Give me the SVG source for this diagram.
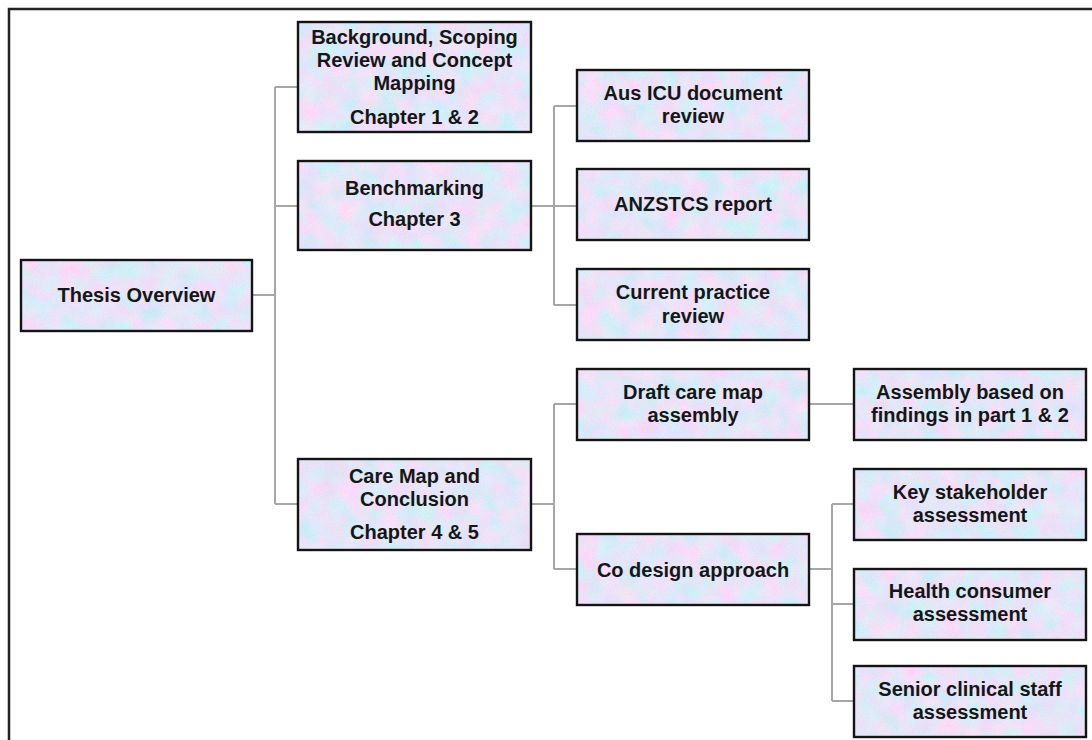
<svg xmlns="http://www.w3.org/2000/svg" width="1092" height="740" viewBox="0 0 1092 740">
  <defs>
    <!-- soft lavender paper with faint blue and pink mottling, used to fill every box -->
    <filter id="mottle" x="0" y="0" width="1" height="1" filterUnits="objectBoundingBox">
      <feTurbulence type="fractalNoise" baseFrequency="0.05" numOctaves="5" seed="7" result="noise"/>
      <feColorMatrix in="noise" type="matrix" result="tint"
        values="0.7 0 0 0 0.45
                -0.3 0.15 0 0 0.875
                0 0 0.1 0 0.9
                0 0 0 0 1"/>
      <feTurbulence type="fractalNoise" baseFrequency="0.9" numOctaves="1" seed="3" result="fine"/>
      <feColorMatrix in="fine" type="matrix" result="grain"
        values="0 0 0 0 0.45
                0 0 0 0 0.5
                0 0 0 0 0.65
                0.5 0 0 0 -0.2"/>
      <feComposite in="grain" in2="tint" operator="over"/>
    </filter>
    <pattern id="paper" patternUnits="userSpaceOnUse" x="0" y="0" width="1092" height="740">
      <rect width="1092" height="740" filter="url(#mottle)"/>
    </pattern>
    <style>
      .box { fill: url(#paper); stroke: #141414; stroke-width: 2.4; }
      .lbl { font-family: "Liberation Sans", Arial, sans-serif; font-weight: bold; font-size: 20px; fill: #161616; text-anchor: middle; }
      .wire { fill: none; stroke: #a6a6a6; stroke-width: 2; }
      .frame { fill: none; stroke: #222; stroke-width: 2.5; }
    </style>
  </defs>

  <rect width="1092" height="740" fill="#ffffff"/>
  <path class="frame" d="M9,740 V9 H1092"/>

  <g id="connectors">
    <path class="wire" d="M252,295 H275 M275,87 V504 M275,87 H298 M275,206 H298 M275,504 H298"/>
    <path class="wire" d="M531,206 H577 M554,106 V305 M554,106 H577 M554,305 H577"/>
    <path class="wire" d="M531,504 H554 M554,404 V569 M554,404 H577 M554,569 H577"/>
    <path class="wire" d="M809,404 H854"/>
    <path class="wire" d="M809,569 H832 M832,504 V701 M832,504 H854 M832,604 H854 M832,701 H854"/>
  </g>

  <g id="thesis-overview">
    <rect class="box" x="21" y="260" width="231" height="71"/>
    <text class="lbl" x="136.5" y="302">Thesis Overview</text>
  </g>

  <g id="background">
    <rect class="box" x="298" y="22" width="233" height="110"/>
    <text class="lbl" x="414.5" y="44">Background, Scoping</text>
    <text class="lbl" x="414.5" y="67">Review and Concept</text>
    <text class="lbl" x="414.5" y="90">Mapping</text>
    <text class="lbl" x="414.5" y="124">Chapter 1 &amp; 2</text>
  </g>

  <g id="benchmarking">
    <rect class="box" x="298" y="161" width="233" height="89"/>
    <text class="lbl" x="414.5" y="195">Benchmarking</text>
    <text class="lbl" x="414.5" y="226">Chapter 3</text>
  </g>

  <g id="care-map">
    <rect class="box" x="298" y="459" width="233" height="91"/>
    <text class="lbl" x="414.5" y="483">Care Map and</text>
    <text class="lbl" x="414.5" y="506">Conclusion</text>
    <text class="lbl" x="414.5" y="539">Chapter 4 &amp; 5</text>
  </g>

  <g id="aus-icu">
    <rect class="box" x="577" y="70" width="232" height="71"/>
    <text class="lbl" x="693" y="100">Aus ICU document</text>
    <text class="lbl" x="693" y="123">review</text>
  </g>

  <g id="anzstcs">
    <rect class="box" x="577" y="169" width="232" height="71"/>
    <text class="lbl" x="693" y="211">ANZSTCS report</text>
  </g>

  <g id="current-practice">
    <rect class="box" x="577" y="269" width="232" height="71"/>
    <text class="lbl" x="693" y="299">Current practice</text>
    <text class="lbl" x="693" y="323">review</text>
  </g>

  <g id="draft-care-map">
    <rect class="box" x="577" y="369" width="232" height="71"/>
    <text class="lbl" x="693" y="399">Draft care map</text>
    <text class="lbl" x="693" y="422">assembly</text>
  </g>

  <g id="co-design">
    <rect class="box" x="577" y="534" width="232" height="71"/>
    <text class="lbl" x="693" y="577">Co design approach</text>
  </g>

  <g id="assembly">
    <rect class="box" x="854" y="369" width="232" height="71"/>
    <text class="lbl" x="970" y="399">Assembly based on</text>
    <text class="lbl" x="970" y="422">findings in part 1 &amp; 2</text>
  </g>

  <g id="key-stakeholder">
    <rect class="box" x="854" y="469" width="232" height="71"/>
    <text class="lbl" x="970" y="499">Key stakeholder</text>
    <text class="lbl" x="970" y="522">assessment</text>
  </g>

  <g id="health-consumer">
    <rect class="box" x="854" y="569" width="232" height="71"/>
    <text class="lbl" x="970" y="598">Health consumer</text>
    <text class="lbl" x="970" y="621">assessment</text>
  </g>

  <g id="senior-clinical">
    <rect class="box" x="854" y="666" width="232" height="71"/>
    <text class="lbl" x="970" y="696">Senior clinical staff</text>
    <text class="lbl" x="970" y="719">assessment</text>
  </g>
</svg>
